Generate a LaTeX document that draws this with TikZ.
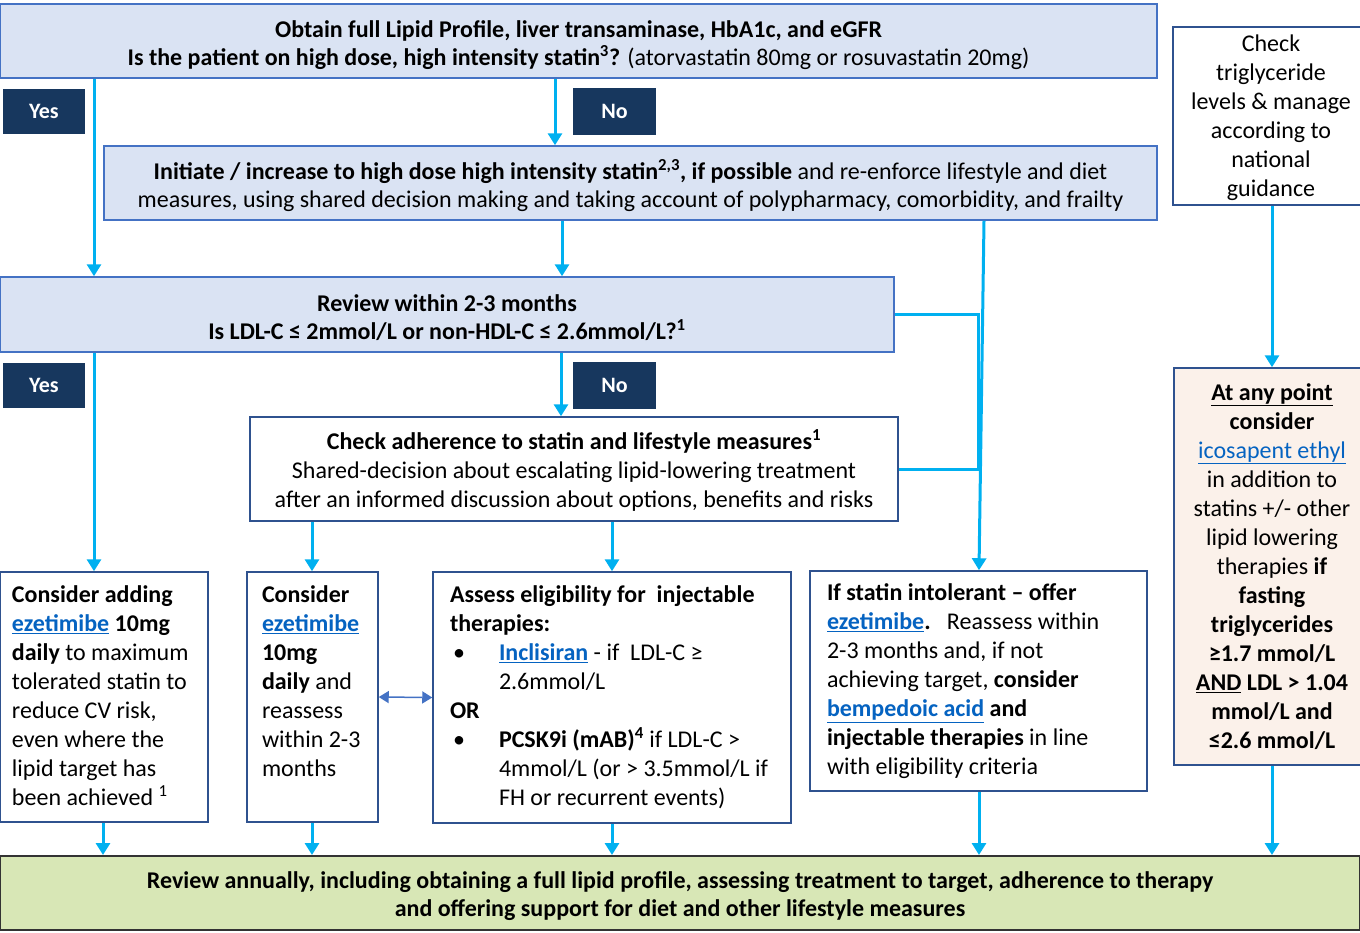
\documentclass[tikz,border=0pt]{standalone}
\usepackage{fontspec}
\setmainfont{Carlito}
\usetikzlibrary{arrows.meta}
\definecolor{lblue}{HTML}{DAE3F3}
\definecolor{bblue}{HTML}{4472C4}
\definecolor{dblue}{HTML}{2F528F}
\definecolor{navy}{HTML}{17375E}
\definecolor{cyanarr}{HTML}{00B0F0}
\definecolor{peach}{HTML}{FBF1EA}
\definecolor{lgreen}{HTML}{D8E7B6}
\definecolor{linkblue}{HTML}{0563C1}
\newcommand\lnk[1]{\textcolor{linkblue}{\underline{#1}}}
\newcommand\bul{\makebox[49pt][l]{\hspace{3pt}•}}
\newcommand\tstrut[1]{\rule{0pt}{#1}}
\tikzset{
 qbox/.style={draw=bblue, fill=lblue, line width=1.5pt, inner sep=0pt, align=center, font=\fontsize{24}{28}\selectfont},
 wbox/.style={draw=dblue, fill=white, line width=1.5pt, inner sep=0pt},
 yn/.style={fill=navy, text=white, font=\fontsize{22}{26}\selectfont\bfseries, inner sep=0pt},
 arr/.style={draw=cyanarr, line width=3pt, -{Triangle[width=14pt,length=12pt]}},
 cline/.style={draw=cyanarr, line width=3pt},
 darr/.style={draw=bblue, line width=1.5pt, {Triangle[width=12pt,length=10pt]}-{Triangle[width=12pt,length=10pt]}},
 btxt/.style={font=\fontsize{24}{29}\selectfont},
}
\begin{document}
\begin{tikzpicture}[x=1pt,y=-1pt]
\useasboundingbox (0,0) rectangle (1360,932);

\node[qbox, minimum width=1157pt, minimum height=74pt] (b1) at (578.5,41)
 {\tstrut{26pt}{\bfseries Obtain full Lipid Profile, liver transaminase, HbA1c, and eGFR}\\
  {\bfseries Is the patient on high dose, high intensity statin\textsuperscript{3}?} (atorvastatin 80mg or rosuvastatin 20mg)};

\node[qbox, minimum width=1053pt, minimum height=74pt] (b2) at (630.5,183)
 {\tstrut{26pt}{\bfseries Initiate / increase to high dose high intensity statin\textsuperscript{2,3}, if possible} and re-enforce lifestyle and diet\\
  measures, using shared decision making and taking account of polypharmacy, comorbidity, and frailty};

\node[qbox, minimum width=894pt, minimum height=75pt] (b3) at (447,314.5)
 {\tstrut{24pt}{\bfseries Review within 2-3 months}\\
  {\bfseries Is LDL-C ≤ 2mmol/L or non-HDL-C ≤ 2.6mmol/L?\textsuperscript{1}}};

\node[wbox, minimum width=648pt, minimum height=104pt, align=center, font=\fontsize{24}{29}\selectfont] (b4) at (574,469)
 {\tstrut{22pt}{\bfseries Check adherence to statin and lifestyle measures\textsuperscript{1}}\\
  Shared-decision about escalating lipid-lowering treatment\\
  after an informed discussion about options, benefits and risks};

\node[wbox, minimum width=196pt, minimum height=178pt, align=center, btxt] (chk) at (1271,116)
 {\tstrut{21pt}Check\\ triglyceride\\ levels \& manage\\ according to\\ national\\ guidance};

\node[wbox, fill=peach, minimum width=196pt, minimum height=397pt, align=center, btxt] (b5) at (1272,566.5)
 {\underline{\textbf{At any point}}\\
  \textbf{consider}\\
  \lnk{icosapent ethyl}\\
  in addition to\\
  statins +/- other\\
  lipid lowering\\
  therapies \textbf{if}\\
  \textbf{fasting}\\
  \textbf{triglycerides}\\
  \textbf{≥1.7 mmol/L}\\
  \textbf{\underline{AND} LDL > 1.04}\\
  \textbf{mmol/L and}\\
  \textbf{≤2.6 mmol/L}};

\node[yn, minimum width=82pt, minimum height=45pt] (yes1) at (44,111.5) {Yes};
\node[yn, minimum width=83pt, minimum height=47pt] (no1) at (614.5,111.5) {No};
\node[yn, minimum width=82pt, minimum height=45pt] (yes2) at (44,385.5) {Yes};
\node[yn, minimum width=83pt, minimum height=47pt] (no2) at (614.5,385.5) {No};

\node[wbox, inner xsep=12pt, inner ysep=14pt, btxt] (i1) at (104,697)
 {\parbox[c][222pt][t]{184pt}{\raggedright
  \textbf{Consider adding}\\
  \lnk{\textbf{ezetimibe}} \textbf{10mg}\\
  \textbf{daily} to maximum\\
  tolerated statin to\\
  reduce CV risk,\\
  even where the\\
  lipid target has\\
  been achieved \textsuperscript{1}}};

\node[wbox, inner xsep=15pt, inner ysep=14pt, btxt] (i2) at (312.5,697)
 {\parbox[c][222pt][t]{101pt}{\raggedright
  \textbf{Consider}\\
  \lnk{\textbf{ezetimibe}}\\
  \textbf{10mg}\\
  \textbf{daily} and\\
  reassess\\
  within 2-3\\
  months}};

\node[wbox, inner xsep=17pt, inner ysep=14pt, btxt] (i3) at (612,697.5)
 {\parbox[c][223pt][t]{324pt}{\raggedright
  \textbf{Assess eligibility for\ \ injectable}\\
  \textbf{therapies:}\\
  \bul\lnk{\textbf{Inclisiran}} - if\ \ LDL-C ≥\\
  \hspace*{49pt}2.6mmol/L\\
  \textbf{OR}\\
  \bul\textbf{PCSK9i (mAB)\textsuperscript{4}} if LDL-C >\\
  \hspace*{49pt}4mmol/L (or > 3.5mmol/L if\\
  \hspace*{49pt}FH or recurrent events)}};

\node[wbox, inner xsep=17pt, inner ysep=13pt, btxt] (i4) at (978.5,681)
 {\parbox[c][194pt][t]{303pt}{\raggedright
  \textbf{If statin intolerant – offer}\\
  \lnk{\textbf{ezetimibe}}\textbf{.}\ \ \ Reassess within\\
  2-3 months and, if not\\
  achieving target, \textbf{consider}\\
  \lnk{\textbf{bempedoic acid}} \textbf{and}\\
  \textbf{injectable therapies} in line\\
  with eligibility criteria}};

\node[draw=black!80, fill=lgreen, line width=2pt, inner sep=0pt, minimum width=1360pt, minimum height=74pt, align=center, font=\fontsize{24}{28}\selectfont\bfseries] (bot) at (680,893)
 {\tstrut{24pt}Review annually, including obtaining a full lipid profile, assessing treatment to target, adherence to therapy\\
  and offering support for diet and other lifestyle measures};

% connectors
\draw[arr] (555,0 |- b1.south) -- (555,0 |- b2.north);
\draw[arr] (94,0 |- b1.south) -- (94,0 |- b3.north);
\draw[arr] (562,0 |- b2.south) -- (562,0 |- b3.north);
\draw[arr] (984,0 |- b2.south) -- (979,0 |- i4.north);
\draw[cline] (b3.east) -| (978,0 |- b4.east) -- (b4.east);
\draw[arr] (1272,0 |- chk.south) -- (1272,0 |- b5.north);
\draw[arr] (561,0 |- b3.south) -- (561,0 |- b4.north);
\draw[arr] (94,0 |- b3.south) -- (94,0 |- i1.north);
\draw[arr] (312,0 |- b4.south) -- (312,0 |- i2.north);
\draw[arr] (612,0 |- b4.south) -- (612,0 |- i3.north);
\draw[darr] (i2.east) -- (i3.west);
\draw[arr] (103,0 |- i1.south) -- (103,0 |- bot.north);
\draw[arr] (312,0 |- i2.south) -- (312,0 |- bot.north);
\draw[arr] (612,0 |- i3.south) -- (612,0 |- bot.north);
\draw[arr] (979,0 |- i4.south) -- (979,0 |- bot.north);
\draw[arr] (1272,0 |- b5.south) -- (1272,0 |- bot.north);
\end{tikzpicture}
\end{document}
